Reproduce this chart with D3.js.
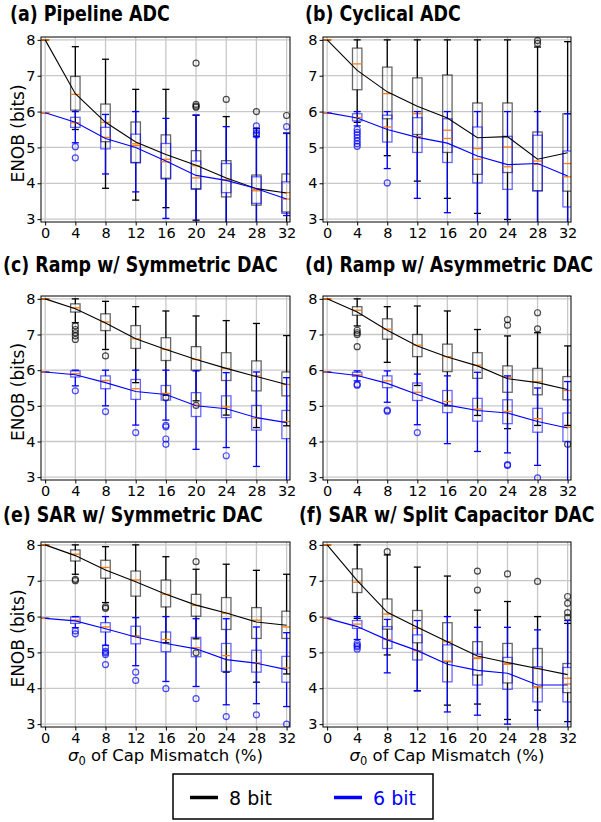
<!DOCTYPE html>
<html>
<head>
<meta charset="utf-8">
<script src="https://d3js.org/d3.v7.min.js"></script>
<style>
  body { margin: 0; background: #fff; }
  text { font-family: "DejaVu Sans", sans-serif; }
</style>
</head>
<body>
<div id="chart"></div>
<script>
// categories / ticks
var xCats = [0, 4, 8, 12, 16, 20, 24, 28, 32];
var yTicks = [3, 4, 5, 6, 7, 8];
var titles = ["(a) Pipeline ADC", "(b) Cyclical ADC", "(c) Ramp w/ Symmetric DAC",
  "(d) Ramp w/ Asymmetric DAC", "(e) SAR w/ Symmetric DAC", "(f) SAR w/ Split Capacitor DAC"];
var seriesNames = ["8 bit", "6 bit"];

// boxes are [whisker low, q1, median, q3, whisker high], one per x category
// (a) Pipeline
var aMean8 = [8, 6.5, 5.7, 5.15, 4.8, 4.5, 4.15, 3.85, 3.73];
var aBox8 = [[8,8,8,8,8], [5.5,6.04,6.48,6.98,7.81], [3.86,5.16,5.7,6.21,7.46], [3.53,4.58,5.05,5.71,6.62],
  [3.32,4.14,4.67,5.35,6.62], [2.97,3.85,4.15,4.91,5.9], [2.7,3.62,4.09,4.63,5.86], [2.7,3.39,3.79,4.23,5.53], [2.7,3.2,3.74,4.26,5.4]];
var aOut8 = [[20,7.35],[20,6.2],[20,6.15],[20,6.12],[24,6.34],[28,6.0],[32,5.89]];
var aMean6 = [5.97, 5.7, 5.25, 5.0, 4.62, 4.22, 4.08, 3.85, 3.56];
var aBox6 = [[5.97,5.97,5.97,5.97,5.97], [5.13,5.56,5.69,5.84,6.0], [4.26,4.96,5.28,5.56,5.92], [3.76,4.57,5.1,5.37,6.0],
  [3.02,4.12,4.6,5.11,5.81], [2.7,3.83,4.49,4.62,5.9], [2.7,3.74,4.09,4.55,5.58], [2.7,3.44,3.83,4.18,5.3], [3.1,3.16,3.56,4.04,5.39]];
var aOut6 = [[4,5.02],[4,4.71],[28,5.6],[28,5.47],[28,5.4],[28,5.35],[32,5.58]];

// (b) Cyclical
var bMean8 = [8, 7.15, 6.55, 6.15, 5.82, 5.27, 5.3, 4.67, 4.85];
var bBox8 = [[8,8,8,8,8], [5.7,6.61,7.33,7.77,8.0], [4.77,5.8,6.5,7.24,8.0], [4.06,5.36,5.94,6.94,8.0],
  [3.58,4.86,5.48,7.02,8.0], [3.16,4.25,4.97,6.24,8.0], [2.99,4.3,5.01,6.24,8.0], [2.7,3.79,4.62,5.43,7.8], [2.7,3.78,4.55,5.94,7.95]];
var bOut8 = [[28,7.98],[28,7.9]];
var bMean6 = [5.97, 5.82, 5.5, 5.28, 5.12, 4.76, 4.52, 4.55, 4.2];
var bBox6 = [[5.97,5.97,5.97,5.97,5.97], [5.6,5.74,5.83,5.94,6.0], [4.41,5.15,5.57,5.9,6.0], [3.58,4.86,5.3,5.83,6.0],
  [3.18,4.58,5.25,5.8,6.0], [2.7,4.01,4.67,5.57,6.0], [2.7,3.83,4.46,5.31,6.0], [2.7,3.79,4.53,5.34,6.0], [2.7,3.34,4.18,4.9,5.94]];
var bOut6 = [[4,5.5],[4,5.42],[4,5.35],[4,5.27],[4,5.18],[4,5.1],[4,5.03],[8,4.01]];

// (c) Ramp, symmetric DAC
var cMean8 = [8, 7.72, 7.32, 6.88, 6.58, 6.3, 6.05, 5.82, 5.6];
var cBox8 = [[8,8,8,8,8], [7.33,7.63,7.75,7.86,8.0], [6.58,7.11,7.35,7.58,7.93], [5.65,6.61,6.88,7.25,7.78],
  [5.3,6.27,6.58,6.91,7.66], [5.14,6.0,6.3,6.66,7.52], [4.74,5.71,6.05,6.49,7.39], [4.39,5.42,5.84,6.26,7.31], [4.44,5.28,5.6,5.95,6.97]];
var cOut8 = [[4,7.24],[4,7.14],[4,7.05],[4,6.96],[4,6.86],[8,6.4],[16,5.23],[20,5.01]];
var cMean6 = [5.95, 5.87, 5.65, 5.4, 5.32, 5.0, 4.92, 4.67, 4.53];
var cBox6 = [[5.95,5.95,5.95,5.95,5.95], [5.56,5.81,5.9,5.98,6.0], [5.0,5.48,5.71,5.84,6.0], [4.46,5.18,5.48,5.74,6.0],
  [4.6,5.16,5.35,5.57,6.0], [3.78,4.7,5.02,5.37,5.98], [3.83,4.67,4.97,5.28,5.93], [3.3,4.32,4.65,5.01,5.95], [2.7,4.08,4.56,4.87,5.79]];
var cOut6 = [[4,5.42],[8,4.84],[12,4.25],[16,4.45],[16,4.41],[16,4.07],[16,3.92],[24,3.6]];

// (d) Ramp, asymmetric DAC
var dMean8 = [8, 7.63, 7.12, 6.68, 6.37, 6.12, 5.76, 5.65, 5.46];
var dBox8 = [[8,8,8,8,8], [7.24,7.54,7.68,7.78,8.0], [6.22,6.87,7.15,7.44,7.78], [5.57,6.38,6.7,7.0,7.8],
  [5.0,5.96,6.38,6.73,7.66], [4.73,5.77,6.14,6.49,7.14], [4.36,5.38,5.8,6.12,6.96], [4.45,5.31,5.68,6.05,7.05], [4.45,5.17,5.43,5.82,6.68]];
var dOut8 = [[4,7.12],[4,7.05],[4,7.0],[4,6.66],[24,7.42],[24,7.26],[28,7.61],[28,7.16],[32,3.92]];
var dMean6 = [5.95, 5.85, 5.63, 5.32, 5.02, 4.87, 4.8, 4.56, 4.38];
var dBox6 = [[5.95,5.95,5.95,5.95,5.95], [5.7,5.83,5.87,5.94,5.98], [5.1,5.51,5.7,5.84,5.98], [4.47,5.15,5.38,5.64,5.89],
  [3.94,4.81,5.12,5.43,5.84], [3.72,4.57,4.91,5.21,5.94], [3.68,4.5,4.84,5.17,5.84], [3.33,4.26,4.64,4.93,5.5], [2.7,4.0,4.4,4.8,5.68]];
var dOut6 = [[4,5.6],[4,5.58],[8,4.88],[8,4.85],[12,4.25],[24,3.35],[24,3.33],[28,2.98]];

// (e) SAR, symmetric DAC
var eMean8 = [8, 7.7, 7.3, 6.97, 6.62, 6.32, 6.1, 5.85, 5.76];
var eBox8 = [[8,8,8,8,8], [7.18,7.55,7.74,7.86,8.0], [6.39,7.07,7.37,7.57,7.95], [5.45,6.57,7.02,7.27,8.0],
  [5.27,6.27,6.62,7.02,7.67], [5.38,6.01,6.31,6.62,7.32], [4.45,5.64,6.09,6.53,7.46], [4.17,5.39,5.9,6.25,7.29], [4.4,5.39,5.71,6.15,7.18]];
var eOut8 = [[4,7.04],[4,7.0],[8,6.27],[8,6.23],[20,7.53],[20,4.99]];
var eMean6 = [5.95, 5.88, 5.66, 5.43, 5.25, 5.1, 4.8, 4.7, 4.52];
var eBox6 = [[5.95,5.95,5.95,5.95,5.95], [5.69,5.81,5.9,5.99,6.0], [5.2,5.57,5.71,5.83,6.0], [4.63,5.24,5.45,5.73,5.97],
  [4.19,5.02,5.36,5.57,6.0], [4.05,4.88,5.13,5.42,5.94], [3.54,4.47,4.91,5.25,5.94], [3.57,4.45,4.71,5.06,5.71], [3.49,4.17,4.57,4.89,5.55]];
var eOut6 = [[4,5.6],[4,5.52],[8,5.13],[8,5.03],[8,4.99],[8,4.94],[8,4.66],[12,4.45],[12,4.22],[16,3.99],[20,3.71],[24,3.21],[28,3.26],[32,3.0]];

// (f) SAR, split capacitor DAC
var fMean8 = [8, 7.0, 6.12, 5.7, 5.3, 4.9, 4.72, 4.55, 4.38];
var fBox8 = [[8,8,8,8,8], [5.95,6.67,6.96,7.33,8.0], [4.93,5.65,6.07,6.49,7.72], [3.93,5.27,5.67,6.17,7.38],
  [3.53,4.74,5.3,5.83,7.13], [3.56,4.37,4.83,5.3,6.18], [3.13,4.15,4.67,5.25,6.42], [3.39,4.04,4.55,5.11,6.0], [3.07,3.88,4.28,4.69,5.81]];
var fOut8 = [[8,7.81],[20,7.27],[20,6.74],[24,7.19],[28,6.98],[32,6.56],[32,6.37],[32,6.11],[32,5.98]];
var fMean6 = [5.95, 5.72, 5.35, 5.05, 4.67, 4.5, 4.42, 4.09, 4.09];
var fBox6 = [[5.95,5.95,5.95,5.95,5.95], [5.36,5.67,5.79,5.89,6.0], [4.43,5.11,5.36,5.72,5.92], [3.93,4.79,5.05,5.49,5.89],
  [3.34,4.18,4.76,5.21,6.0], [3.25,4.09,4.85,4.95,5.7], [3.0,3.97,4.69,4.86,5.7], [2.7,3.62,4.04,4.6,5.63], [2.7,3.62,4.12,4.58,5.89]];
var fOut6 = [[4,5.25],[4,5.2],[4,5.16],[4,5.09]];

var panels = [
  {mean8: aMean8, box8: aBox8, out8: aOut8, mean6: aMean6, box6: aBox6, out6: aOut6},
  {mean8: bMean8, box8: bBox8, out8: bOut8, mean6: bMean6, box6: bBox6, out6: bOut6},
  {mean8: cMean8, box8: cBox8, out8: cOut8, mean6: cMean6, box6: cBox6, out6: cOut6},
  {mean8: dMean8, box8: dBox8, out8: dOut8, mean6: dMean6, box6: dBox6, out6: dOut6},
  {mean8: eMean8, box8: eBox8, out8: eOut8, mean6: eMean6, box6: eBox6, out6: eOut6},
  {mean8: fMean8, box8: fBox8, out8: fOut8, mean6: fMean6, box6: fBox6, out6: fOut6}
];

var width = 601, height = 822;
var cols = [[41, 290], [323, 571]];
var rows = [[37, 222], [296, 480], [542, 727]];
var titleY = [21, 272, 522];
var colors = ["#000000", "#0000ff"];
var medianColor = "#ff7f0e";

var svg = d3.select('#chart').append('svg')
  .attr('width', width)
  .attr('height', height);

panels.forEach(function(p, i) { drawPanel(p, i); });

function drawPanel(p, i) {
  var c = i % 2, r = Math.floor(i / 2);
  var x = d3.scaleLinear().domain([-0.55, 32.45]).range(cols[c]);
  var y = d3.scaleLinear().domain([2.92, 8.08]).range([rows[r][1], rows[r][0]]);
  var x0 = cols[c][0], x1 = cols[c][1], y0 = rows[r][0], y1 = rows[r][1];

  var g = svg.append('g');

  g.append('clipPath').attr('id', 'clip' + i)
    .append('rect').attr('x', x0).attr('y', y0).attr('width', x1 - x0).attr('height', y1 - y0);

  // grid
  g.append('g').selectAll('line').data(xCats).join('line')
    .attr('x1', d => x(d)).attr('x2', d => x(d)).attr('y1', y0).attr('y2', y1)
    .attr('stroke', '#c8c8c8').attr('stroke-width', 1.3);
  g.append('g').selectAll('line').data(yTicks).join('line')
    .attr('x1', x0).attr('x2', x1).attr('y1', d => y(d)).attr('y2', d => y(d))
    .attr('stroke', '#c8c8c8').attr('stroke-width', 1.3);

  // axes
  var xAxis = g.append('g').attr('transform', 'translate(0,' + y1 + ')')
    .call(d3.axisBottom(x).tickValues(xCats).tickFormat(d3.format('d')).tickSizeInner(3.5).tickSizeOuter(0).tickPadding(2));
  xAxis.select('.domain').remove();
  xAxis.selectAll('text').attr('font-size', 14.5).attr('font-family', 'DejaVu Sans').attr('fill', '#000');

  var yAxis = g.append('g').attr('transform', 'translate(' + x0 + ',0)')
    .call(d3.axisLeft(y).tickValues(yTicks).tickFormat(d3.format('d')).tickSizeInner(3.5).tickSizeOuter(0).tickPadding(2));
  yAxis.select('.domain').remove();
  yAxis.selectAll('text').attr('font-size', 14.5).attr('font-family', 'DejaVu Sans').attr('fill', '#000');

  var plot = g.append('g').attr('clip-path', 'url(#clip' + i + ')');
  var bw = x(1.25) - x(0);
  var cw = bw * 0.75;

  [[p.box8, p.out8, p.mean8], [p.box6, p.out6, p.mean6]].forEach(function(s, k) {
    var col = colors[k];
    var boxes = s[0].map(function(b, j) {
      return {x: xCats[j], lo: b[0], q1: b[1], med: b[2], q3: b[3], hi: b[4]};
    });
    var bg = plot.append('g').selectAll('g').data(boxes).join('g');
    // whiskers
    bg.append('line').attr('x1', d => x(d.x)).attr('x2', d => x(d.x))
      .attr('y1', d => y(d.lo)).attr('y2', d => y(d.q1))
      .attr('stroke', col).attr('stroke-width', 1.3);
    bg.append('line').attr('x1', d => x(d.x)).attr('x2', d => x(d.x))
      .attr('y1', d => y(d.q3)).attr('y2', d => y(d.hi))
      .attr('stroke', col).attr('stroke-width', 1.3);
    // caps
    bg.append('line').attr('x1', d => x(d.x) - cw / 2).attr('x2', d => x(d.x) + cw / 2)
      .attr('y1', d => y(d.lo)).attr('y2', d => y(d.lo))
      .attr('stroke', col).attr('stroke-width', 1.3);
    bg.append('line').attr('x1', d => x(d.x) - cw / 2).attr('x2', d => x(d.x) + cw / 2)
      .attr('y1', d => y(d.hi)).attr('y2', d => y(d.hi))
      .attr('stroke', col).attr('stroke-width', 1.3);
    // box
    bg.append('rect').attr('x', d => x(d.x) - bw / 2).attr('width', bw)
      .attr('y', d => y(d.q3)).attr('height', d => y(d.q1) - y(d.q3))
      .attr('fill', 'none').attr('stroke', col).attr('stroke-opacity', 0.6).attr('stroke-width', 1.3);
    // median
    bg.append('line').attr('x1', d => x(d.x) - bw / 2).attr('x2', d => x(d.x) + bw / 2)
      .attr('y1', d => y(d.med)).attr('y2', d => y(d.med))
      .attr('stroke', medianColor).attr('stroke-width', 1.3);
    // outliers
    plot.append('g').selectAll('circle').data(s[1]).join('circle')
      .attr('cx', d => x(d[0])).attr('cy', d => y(d[1])).attr('r', 3)
      .attr('fill', 'none').attr('stroke', col).attr('stroke-opacity', 0.7).attr('stroke-width', 1.2);
  });

  // mean lines on top
  [p.mean8, p.mean6].forEach(function(m, k) {
    plot.append('path')
      .datum(m.map(function(v, j) { return [xCats[j], v]; }))
      .attr('fill', 'none').attr('stroke', colors[k]).attr('stroke-width', 1.1)
      .attr('d', d3.line().x(d => x(d[0])).y(d => y(d[1])));
  });

  // frame
  g.append('rect').attr('x', x0).attr('y', y0).attr('width', x1 - x0).attr('height', y1 - y0)
    .attr('fill', 'none').attr('stroke', '#000').attr('stroke-width', 1);

  // title, squeezed horizontally to mimic a narrow bold face
  var tx = c === 0 ? (r === 0 ? 10 : 3) : (r === 2 ? 299 : 305);
  g.append('text')
    .attr('transform', 'translate(' + tx + ',' + titleY[r] + ') scale(0.85,1)')
    .attr('font-family', 'Lato, "Open Sans", sans-serif').attr('font-weight', 'bold')
    .attr('font-size', 20.5).attr('fill', '#000')
    .text(titles[i]);

  // y label (left column)
  if (c === 0) {
    g.append('text')
      .attr('transform', 'translate(24,' + ((y0 + y1) / 2 + 4) + ') rotate(-90)')
      .attr('text-anchor', 'middle').attr('font-size', 17).attr('fill', '#000')
      .text('ENOB (bits)');
  }
  // x label (bottom row)
  if (r === 2) {
    var t = g.append('text').attr('x', (x0 + x1) / 2).attr('y', y1 + 34)
      .attr('text-anchor', 'middle').attr('font-size', 16.5).attr('fill', '#000');
    t.append('tspan').attr('font-style', 'italic').text('σ');
    t.append('tspan').attr('font-size', 11.5).attr('dy', 4).text('0');
    t.append('tspan').attr('dy', -4).text(' of Cap Mismatch (%)');
  }
}

// legend
var lg = svg.append('g');
lg.append('rect').attr('x', 173).attr('y', 774).attr('width', 260).attr('height', 45)
  .attr('fill', '#fff').attr('stroke', '#000').attr('stroke-width', 1.5);
var legX = [190, 334];
seriesNames.forEach(function(n, k) {
  lg.append('line').attr('x1', legX[k]).attr('x2', legX[k] + 28).attr('y1', 797.5).attr('y2', 797.5)
    .attr('stroke', colors[k]).attr('stroke-width', 3.5);
  lg.append('text').attr('x', legX[k] + 39).attr('y', 804.5)
    .attr('font-size', 19).attr('fill', colors[k]).text(n);
});
</script>
</body>
</html>
